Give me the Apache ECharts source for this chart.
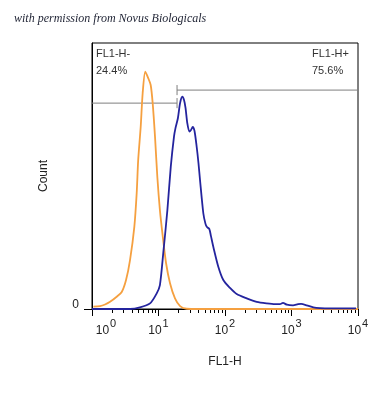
<!DOCTYPE html>
<html>
<head>
<meta charset="utf-8">
<script src="https://cdn.jsdelivr.net/npm/echarts@6/dist/echarts.min.js"></script>
<style>
html,body{margin:0;padding:0;background:#fff;}
#chart{width:385px;height:400px;}
</style>
</head>
<body>
<div id="chart"></div>
<script>
// Fluorescence intensity (FL1-H) and counts (relative, % of axis max)
const orangeX = [1.05, 1.32, 1.57, 1.87, 2.35, 2.80, 3.25, 3.73, 4.33, 4.70, 4.95, 5.40, 5.78, 6.33, 7.03, 7.63, 8.18, 8.86, 9.60, 10.5, 11.6, 13.0, 14.9, 17.7, 21.1, 26.5, 40, 100, 1000, 10000];
const orangeY = [0.9, 1.1, 1.7, 2.7, 4.6, 6.4, 10.9, 18.4, 30.9, 43.6, 56.0, 68.5, 81.1, 89.2, 86.7, 84.2, 77.3, 64.8, 49.7, 37.2, 27.2, 17.2, 9.7, 4.0, 1.1, 0.1, 0, 0, 0, 0];

const blueX = [1, 3.73, 5.27, 7.45, 9.40, 10.5, 11.8, 13.6, 15.3, 17.1, 18.0, 19.6, 21.1, 22.8, 24.2, 25.5, 27.1, 29.1, 30.8, 32.7, 34.8, 37.5, 39.9, 42.1, 47.2, 50.9, 53.6, 58.0, 61.5, 66.7, 79.3, 94.3, 119, 150, 212, 300, 424, 565, 671, 745, 855, 1054, 1253, 1390, 1693, 2130, 2684, 3383, 5360, 9330];
const blueY = [0, 0, 0.6, 2.1, 5.9, 9.0, 21.1, 37.2, 53.5, 64.8, 68.0, 71.8, 77.4, 79.8, 78.6, 75.6, 69.9, 66.7, 67.3, 68.5, 66.9, 61.0, 54.9, 48.5, 36.0, 32.0, 30.8, 30.1, 27.4, 23.4, 15.9, 10.9, 7.9, 5.6, 4.0, 2.7, 2.1, 1.8, 1.8, 2.3, 1.6, 1.4, 1.8, 1.9, 1.4, 0.6, 0.3, 0.26, 0.2, 0.2];

// Gate: threshold and heights
const gateThreshold = 19;
const gateLeftY = 77.4;
const gateRightY = 82.3;
const gateTickHalf = 1.9;
const gateLabels = { neg: ['FL1-H-', '24.4%'], pos: ['FL1-H+', '75.6%'] };

// Axis extent (decades) and tick labels
const xMinFl = 1, xMaxFl = 10000;
const decadeExponents = ['0', '1', '2', '3', '4'];
const yMax = 100;
const yTickLabels = ['0'];

const lg = v => Math.log10(v);
const toPairs = (xs, ys) => xs.map((x, i) => [lg(x), ys[i]]);

const minorTicks = [];
for (let d = 0; d < 4; d++) for (let k = 2; k <= 9; k++) minorTicks.push(lg(k * Math.pow(10, d)));

const gateColor = '#7f7f7f';
const gL = lg(gateThreshold);
function gateSeries(data) {
  return { type: 'line', data, symbol: 'none', silent: true, animation: false,
    lineStyle: { color: gateColor, width: 1 }, z: 1 };
}

const chart = echarts.init(document.getElementById('chart'), null, { renderer: 'canvas' });
chart.setOption({
  animation: false,
  backgroundColor: '#fff',
  title: {
    text: 'with permission from Novus Biologicals',
    left: 9, top: 8,
    textStyle: { fontFamily: 'Liberation Serif', fontStyle: 'italic', fontWeight: 'normal', fontSize: 12, color: '#1e2233' }
  },
  grid: { left: 92, right: 27, top: 43, bottom: 91, show: true, borderColor: '#000', borderWidth: 1, backgroundColor: 'transparent' },
  xAxis: [{
    type: 'value', min: lg(xMinFl), max: lg(xMaxFl), interval: 1, position: 'bottom',
    name: 'FL1-H', nameLocation: 'middle', nameGap: 47,
    nameTextStyle: { fontFamily: 'Liberation Sans', fontSize: 12, color: '#222' },
    axisLine: { lineStyle: { color: '#000', width: 1 } },
    axisTick: { length: 7, lineStyle: { color: '#000' } },
    splitLine: { show: false },
    axisLabel: {
      margin: 9,
      formatter: v => {
        const e = decadeExponents[Math.round(v)];
        return (Math.round(v) === 0 ? '{f|10}' : '{b|10}') + '{s|' + e + '}';
      },
      rich: {
        b: { fontFamily: 'Liberation Sans', fontSize: 12, color: '#222', lineHeight: 19, verticalAlign: 'bottom' },
        f: { fontFamily: 'Liberation Sans', fontSize: 12, color: '#222', lineHeight: 19, verticalAlign: 'bottom', padding: [0, 0, 0, 28] },
        s: { fontFamily: 'Liberation Sans', fontSize: 11, color: '#222', lineHeight: 19, verticalAlign: 'top', padding: [0, 0, 0, 1] }
      }
    }
  }, {
    type: 'value', min: lg(xMinFl), max: lg(xMaxFl), position: 'bottom',
    axisLine: { show: false },
    axisTick: { show: true, length: 4, customValues: minorTicks, lineStyle: { color: '#000' } },
    axisLabel: { show: false },
    splitLine: { show: false }
  }],
  yAxis: {
    type: 'value', min: 0, max: yMax,
    name: 'Count', nameLocation: 'middle', nameGap: 42, nameRotate: 90,
    nameTextStyle: { fontFamily: 'Liberation Sans', fontSize: 12, color: '#222' },
    axisLine: { show: true, lineStyle: { color: '#000', width: 1 } },
    axisTick: { show: true, length: 8, customValues: [0], lineStyle: { color: '#000' } },
    axisLabel: { customValues: [0], formatter: () => '{z|' + yTickLabels[0] + '}', margin: 13, verticalAlign: 'middle',
      rich: { z: { fontFamily: 'Liberation Sans', fontSize: 12, color: '#222', lineHeight: 12, padding: [0, 0, 8, 0] } } },
    splitLine: { show: false }
  },
  graphic: [
    { type: 'text', left: 96, top: 45, style: { text: gateLabels.neg[0] + '\n' + gateLabels.neg[1], font: '11px "Liberation Sans"', fill: '#333', lineHeight: 17 } },
    { type: 'text', left: 312, top: 45, style: { text: gateLabels.pos[0] + '\n' + gateLabels.pos[1], font: '11px "Liberation Sans"', fill: '#333', lineHeight: 17 } }
  ],
  series: [
    gateSeries([[lg(xMinFl), gateLeftY], [gL, gateLeftY]]),
    gateSeries([[gL, gateLeftY - gateTickHalf], [gL, gateLeftY + gateTickHalf]]),
    gateSeries([[gL, gateRightY], [lg(xMaxFl), gateRightY]]),
    gateSeries([[gL, gateRightY - gateTickHalf], [gL, gateRightY + gateTickHalf]]),
    { type: 'line', data: toPairs(orangeX, orangeY), symbol: 'none', smooth: 0.25,
      lineStyle: { color: '#f5a040', width: 1.8 }, z: 2 },
    { type: 'line', data: toPairs(blueX, blueY), symbol: 'none', smooth: 0.25,
      lineStyle: { color: '#24249e', width: 1.8 }, z: 3 }
  ]
});
</script>
</body>
</html>
